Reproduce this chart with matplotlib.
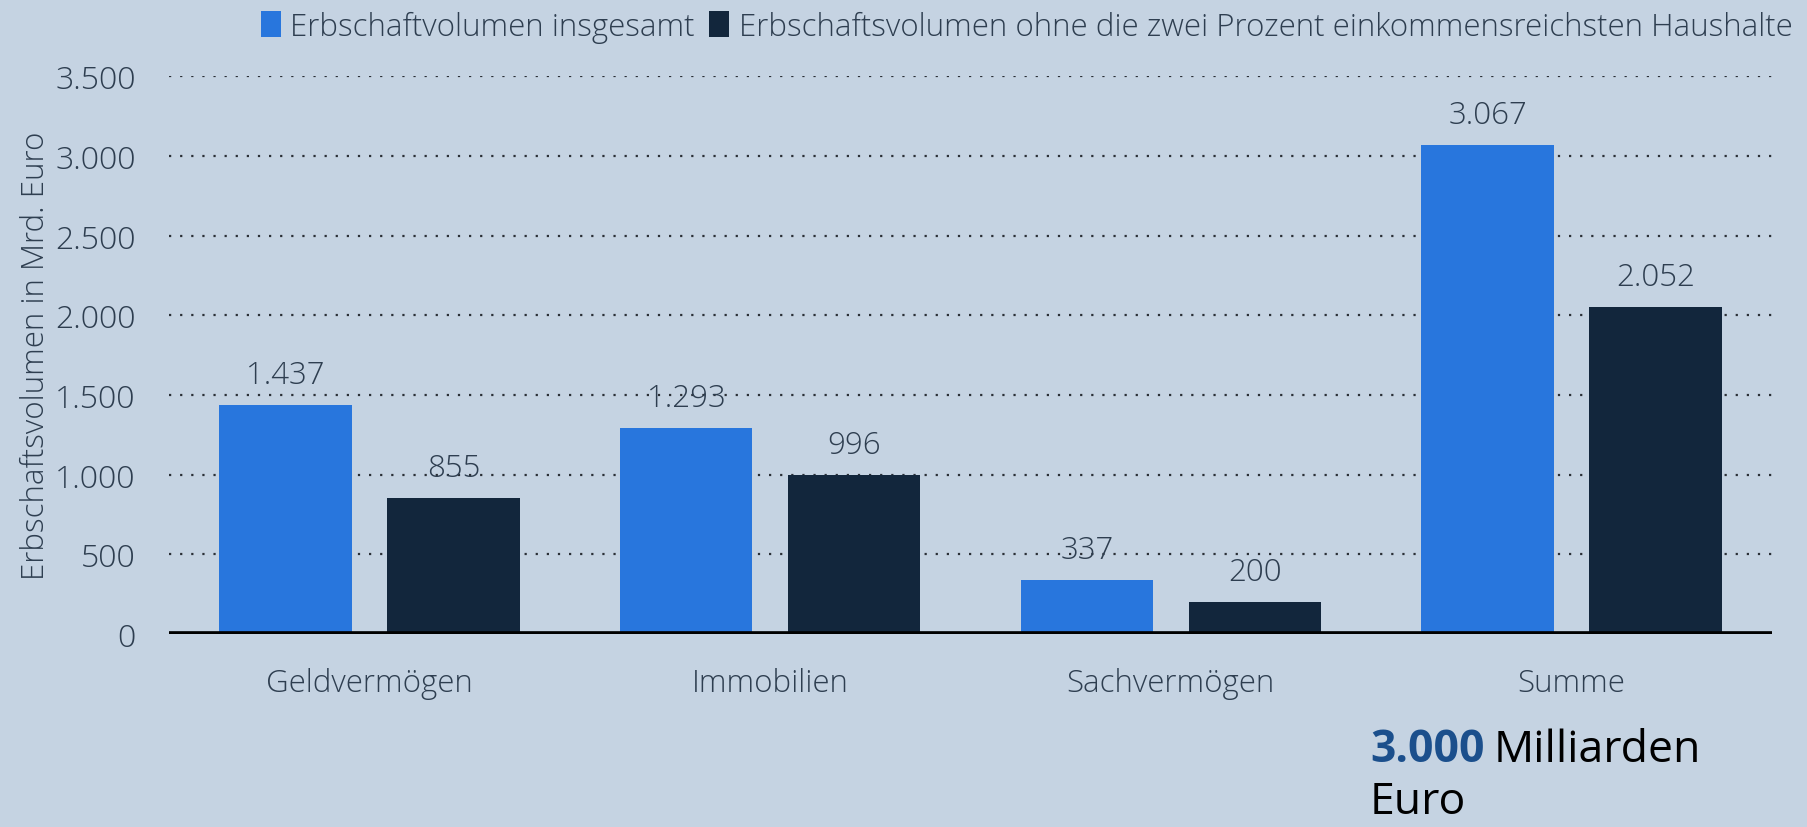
import matplotlib
matplotlib.use("Agg")
import matplotlib.pyplot as plt
from matplotlib import font_manager as fm
import numpy as np

categories = ["Geldvermögen", "Immobilien", "Sachvermögen", "Summe"]
series_names = ["Erbschaftvolumen insgesamt",
                "Erbschaftsvolumen ohne die zwei Prozent einkommensreichsten Haushalte"]
total = [1437, 1293, 337, 3067]
without_top2 = [855, 996, 200, 2052]
yticks = [0, 500, 1000, 1500, 2000, 2500, 3000, 3500]
ytick_labels = ["0", "500", "1.000", "1.500", "2.000", "2.500", "3.000", "3.500"]
ylabel = "Erbschaftsvolumen in Mrd. Euro"

def fmt(v):
    return f"{v:,}".replace(",", ".")

def font_path(fname):
    for f in fm.fontManager.ttflist:
        if f.fname.endswith("/" + fname):
            return f.fname
    return None

def fprop(fname, size, fallback_weight="normal"):
    p = font_path(fname)
    if p:
        return fm.FontProperties(fname=p, size=size)
    return fm.FontProperties(family="Open Sans", weight=fallback_weight, size=size)

BG = "#C5D3E2"
BLUE = "#2876DD"
DARK = "#12263C"
TXT = "#2E3E50"
FS = 22.5

light = fprop("OpenSans-Light.ttf", FS, "light")
light_tick = fprop("OpenSans-Light.ttf", 23, "light")
big_bold = fprop("OpenSans-Bold.ttf", 32, "bold")
big_reg = fprop("OpenSans-Regular.ttf", 32, "normal")

plt.rcParams['font.family'] = ['Open Sans', 'DejaVu Sans']

fig = plt.figure(figsize=(18.08, 8.28), dpi=100, facecolor=BG)
ax = fig.add_axes([169/1808, 1-635/828, (1772-169)/1808, (635-77.3)/828])
ax.set_facecolor(BG)

x = np.arange(len(categories))
w = 0.3306
off = 0.2095
b1 = ax.bar(x - off, total, w, color=BLUE, label=series_names[0], zorder=3)
b2 = ax.bar(x + off, without_top2, w, color=DARK, label=series_names[1], zorder=3)

for bars, vals in ((b1, total), (b2, without_top2)):
    for r, v in zip(bars, vals):
        ax.annotate(fmt(v), (r.get_x() + r.get_width()/2, v), xytext=(0, 10),
                    textcoords="offset points", ha="center", va="bottom",
                    fontproperties=light, color=TXT, zorder=4)

ax.set_xlim(-0.5, 3.5)
ax.set_ylim(0, 3500)
ax.set_yticks(yticks)
ax.set_yticklabels(ytick_labels)
ax.set_xticks(x)
ax.set_xticklabels(categories)
ax.tick_params(axis="both", length=0, labelcolor=TXT)
ax.tick_params(axis="x", pad=24)
ax.tick_params(axis="y", pad=24)
for lab in ax.get_xticklabels():
    lab.set_fontproperties(light)
for lab in ax.get_yticklabels():
    lab.set_fontproperties(light_tick)

for yv in yticks[1:]:
    ax.axhline(yv, color="#2A2F36", linestyle=(0, (1, 4)), linewidth=1.6, zorder=1)
ax.axhline(0, color="black", linewidth=4.8, zorder=5)

for s in ax.spines.values():
    s.set_visible(False)

ax.set_ylabel(ylabel, fontproperties=light, color=TXT)
ax.yaxis.set_label_coords(-0.0728, 0.5)

leg = fig.legend(loc="center right", bbox_to_anchor=(1805/1808, 1-28/828), ncol=2,
                 frameon=False, prop=light, handlelength=0.65, handleheight=0.9,
                 handletextpad=0.3, columnspacing=0.45, borderaxespad=0)
for t in leg.get_texts():
    t.set_color(TXT)

fig.text(1370/1808, 1-762/828, "3.000", fontproperties=big_bold,
         color="#1B4F8C", ha="left", va="baseline")
fig.text(1494/1808, 1-762/828, "Milliarden", fontproperties=big_reg, color="black",
         ha="left", va="baseline")
fig.text(1370/1808, 1-814/828, "Euro", fontproperties=big_reg, color="black",
         ha="left", va="baseline")

fig.savefig("out.png", dpi=100, facecolor=BG)
